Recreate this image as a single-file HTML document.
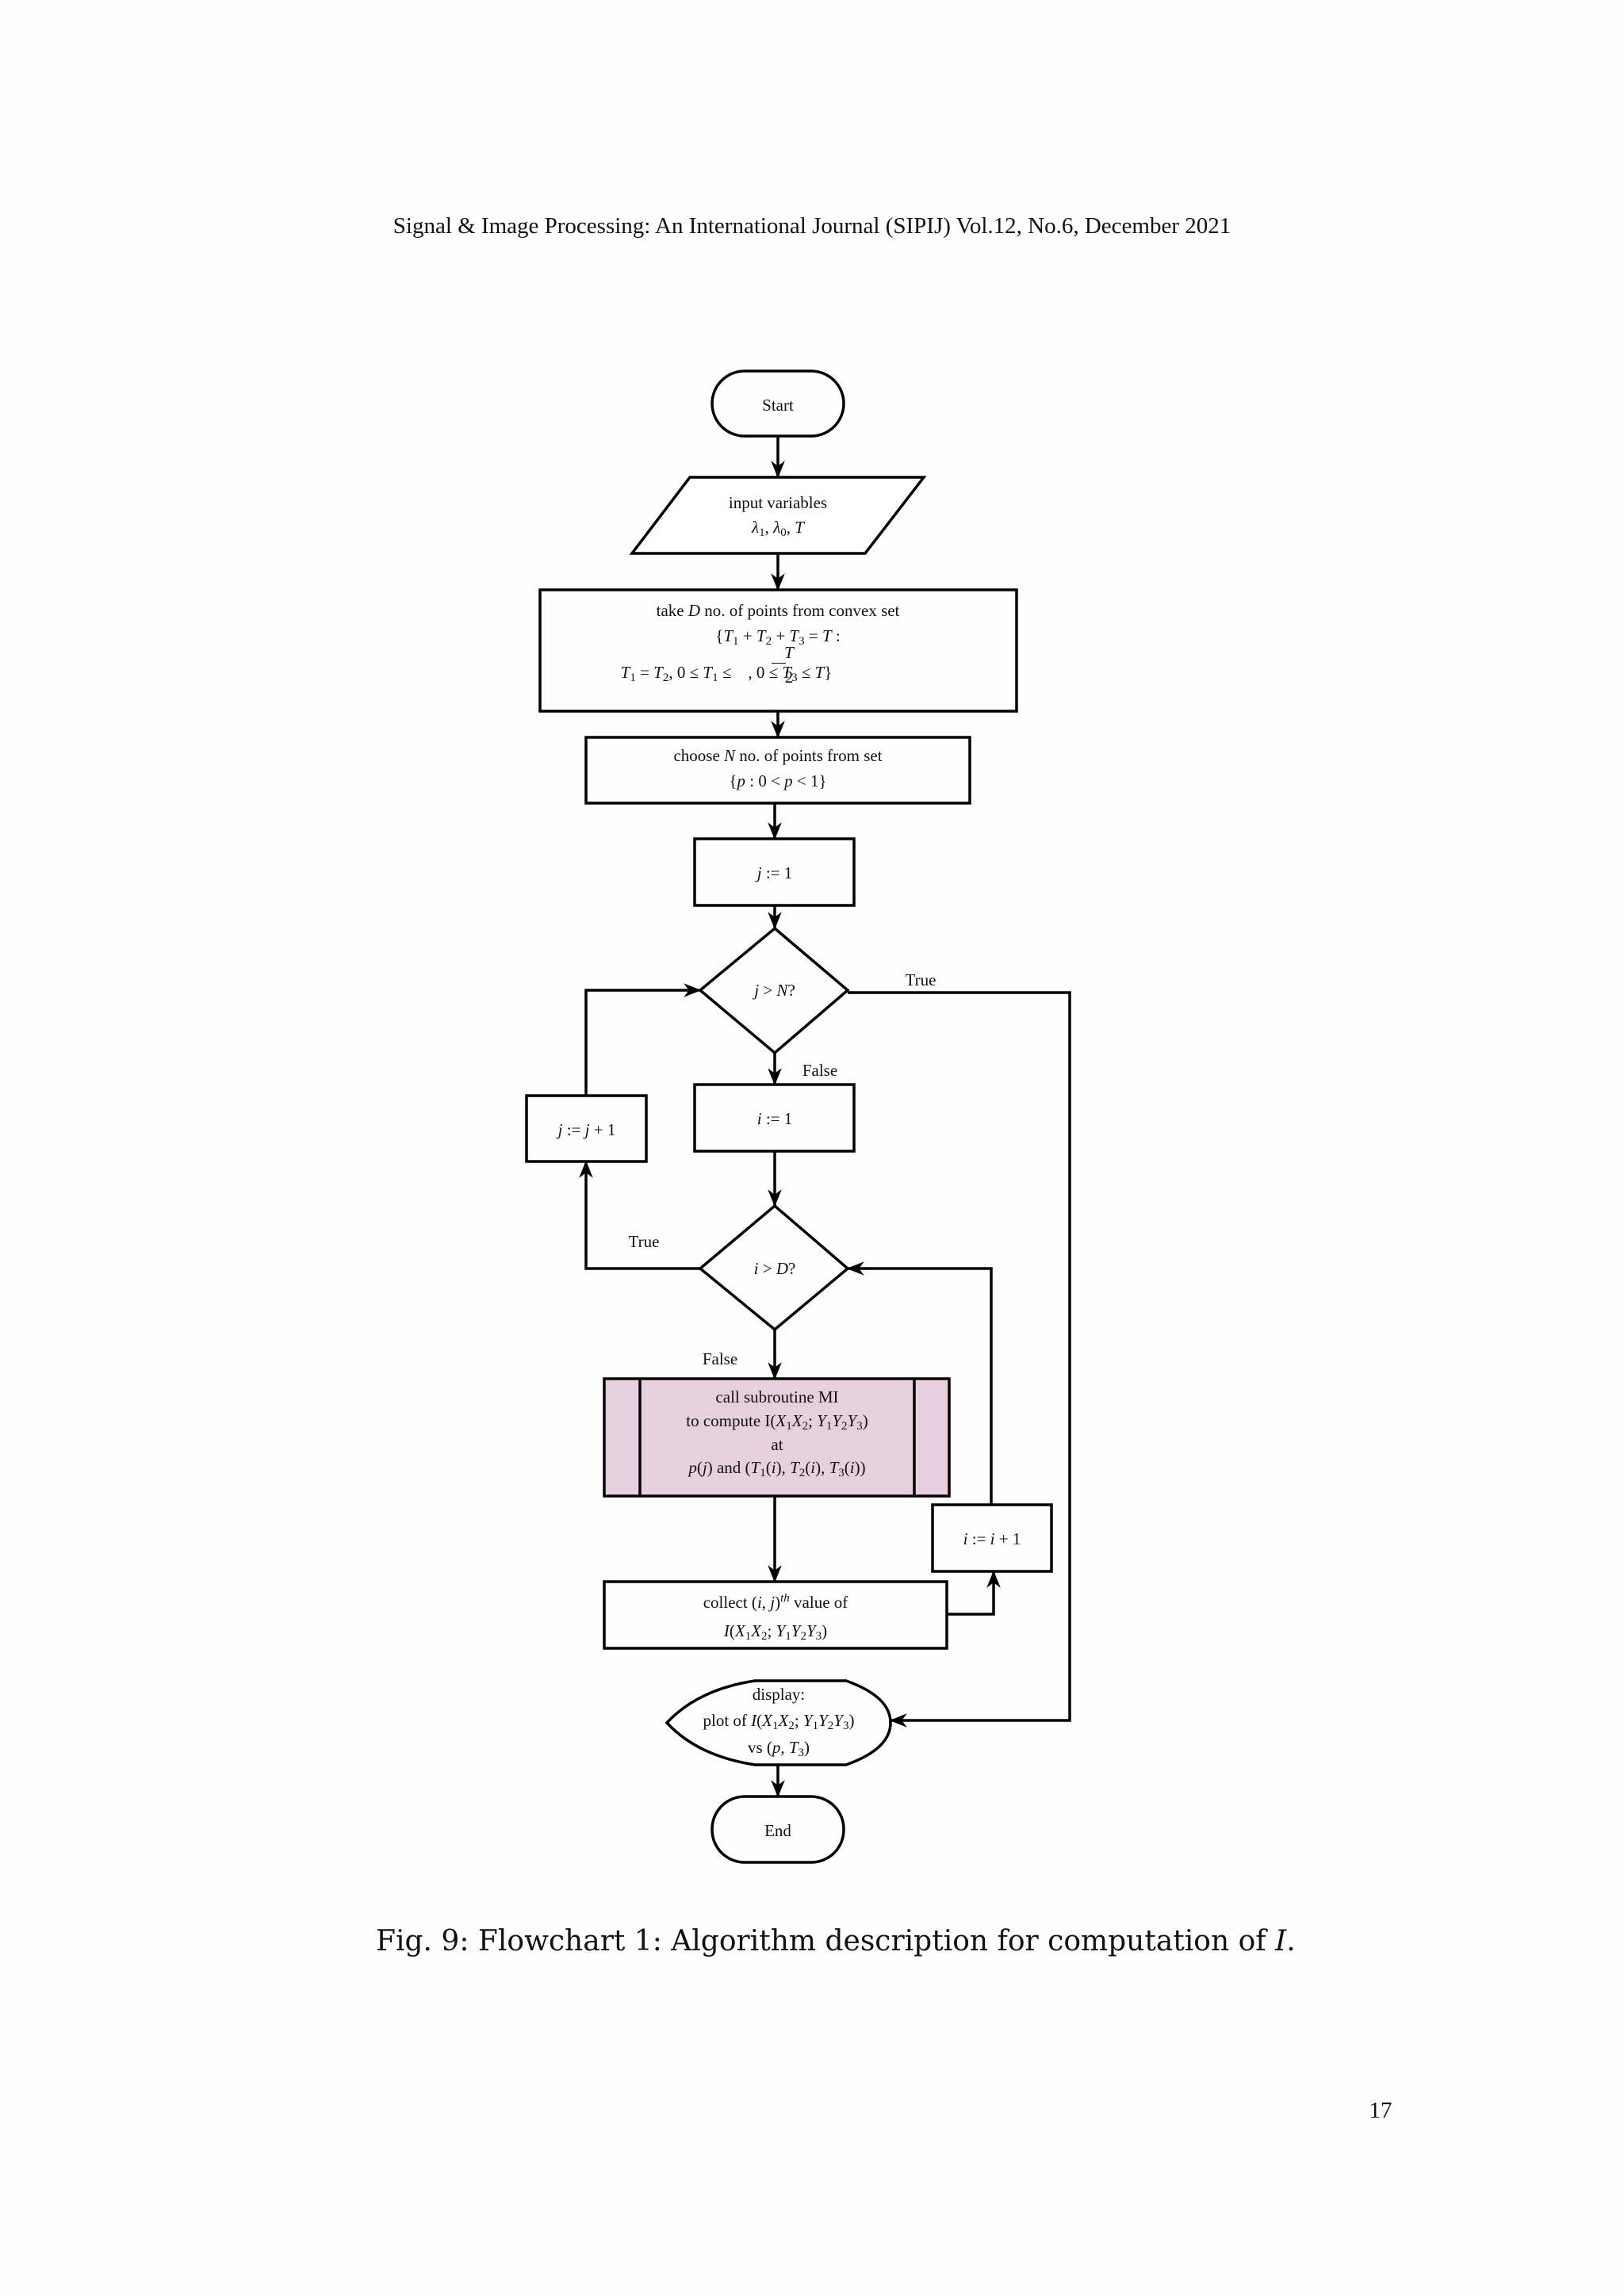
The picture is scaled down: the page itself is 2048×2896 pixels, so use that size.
<!DOCTYPE html>
<html><head><meta charset="utf-8"><style>
html,body{margin:0;padding:0;background:#fefefe;}
#pg{position:relative;width:2048px;height:2896px;overflow:hidden;font-family:"Liberation Serif",serif;color:#111;}
svg{position:absolute;left:0;top:0;}
.t{position:absolute;width:700px;text-align:center;font-size:21px;line-height:24px;height:24px;white-space:nowrap;}
i{font-style:italic;}
sub{font-size:15px;vertical-align:-4px;line-height:0;}
sup{font-size:15px;vertical-align:8px;line-height:0;}
</style></head><body><div id="pg">
<svg width="2048" height="2896" viewBox="0 0 2048 2896">
<defs><marker id="a" markerWidth="10" markerHeight="10" refX="9" refY="5" orient="auto" markerUnits="userSpaceOnUse" viewBox="0 0 10 10"><path d="M0,0 L10,5 L0,10 L3,5z" fill="#000"/></marker>
<marker id="b" viewBox="0 0 10 10" refX="9" refY="5" markerWidth="22" markerHeight="22" orient="auto" markerUnits="userSpaceOnUse"><path d="M0,1 L10,5 L0,9 L3,5z" fill="#000"/></marker></defs>
<g fill="none" stroke="#000" stroke-width="3.5">
<rect x="898" y="468" width="166" height="82" rx="41"/>
<polygon points="870,602 1165,602 1091,698 797,698" fill="#fff"/>
<rect x="681" y="744" width="601" height="153"/>
<rect x="739" y="930" width="484" height="83"/>
<rect x="876" y="1058" width="201" height="84"/>
<polygon points="977,1171 1069,1249 977,1328 883,1249"/>
<rect x="876" y="1368" width="201" height="84"/>
<rect x="664" y="1382" width="151" height="83"/>
<polygon points="977,1521 1069,1600 977,1677 883,1600"/>
<rect x="762" y="1739" width="435" height="148" fill="#e6d0df"/>
<line x1="807" y1="1739" x2="807" y2="1887"/><line x1="1153" y1="1739" x2="1153" y2="1887"/>
<rect x="1176" y="1898" width="150" height="84"/>
<rect x="762" y="1995" width="432" height="84"/>
<path d="M952,2120 L1067,2120 Q1123,2140 1123,2173 Q1123,2206 1067,2226 L952,2226 Q880,2215 841,2173 Q880,2131 952,2120Z"/>
<rect x="898" y="2266" width="166" height="83" rx="41"/>
</g>
<g fill="none" stroke="#000" stroke-width="3.5" marker-end="url(#b)">
<line x1="981" y1="550" x2="981" y2="601"/>
<line x1="981" y1="698" x2="981" y2="743"/>
<line x1="981" y1="897" x2="981" y2="929"/>
<line x1="977" y1="1013" x2="977" y2="1057"/>
<line x1="977" y1="1142" x2="977" y2="1170"/>
<line x1="977" y1="1328" x2="977" y2="1367"/>
<line x1="977" y1="1452" x2="977" y2="1520"/>
<line x1="977" y1="1677" x2="977" y2="1738"/>
<line x1="977" y1="1887" x2="977" y2="1994"/>
<line x1="981" y1="2226" x2="981" y2="2265"/>
<polyline points="739,1382 739,1249 882,1249"/>
<polyline points="883,1600 739,1600 739,1466"/>
<polyline points="1250,1898 1250,1600 1070,1600"/>
<polyline points="1194,2036 1253,2036 1253,1983"/>
<polyline points="1069,1252 1349,1252 1349,2170 1124,2170"/>
</g>
</svg>
<div class="t" style="left:474px;top:268px;width:1100px;font-size:29px;height:34px;line-height:34px;">Signal &amp; Image Processing: An International Journal (SIPIJ) Vol.12, No.6, December 2021</div>
<div class="t" style="left:631px;top:499px;">Start</div>
<div class="t" style="left:631px;top:622px;">input variables</div>
<div class="t" style="left:631px;top:653px;"><i>λ</i><sub>1</sub>, <i>λ</i><sub>0</sub>, <i>T</i></div>
<div class="t" style="left:631px;top:758px;">take <i>D</i> no. of points from convex set</div>
<div class="t" style="left:631px;top:790px;">{<i>T</i><sub>1</sub> + <i>T</i><sub>2</sub> + <i>T</i><sub>3</sub> = <i>T</i> :</div>
<div class="t" style="left:566px;top:836px;"><i>T</i><sub>1</sub> = <i>T</i><sub>2</sub>, 0 ≤ <i>T</i><sub>1</sub> ≤ &nbsp;&nbsp;&nbsp;, 0 ≤ <i>T</i><sub>3</sub> ≤ <i>T</i>}</div>
<div class="t" style="left:631px;top:811px;width:700px;padding-left:0;"><span style="position:relative;left:14px;"><i>T</i></span></div>
<div style="position:absolute;left:973px;top:836px;width:18px;border-top:1.5px solid #111;"></div>
<div class="t" style="left:631px;top:842px;"><span style="position:relative;left:14px;">2</span></div>
<div class="t" style="left:631px;top:941px;">choose <i>N</i> no. of points from set</div>
<div class="t" style="left:631px;top:973px;">{<i>p</i> : 0 &lt; <i>p</i> &lt; 1}</div>
<div class="t" style="left:627px;top:1089px;"><i>j</i> := 1</div>
<div class="t" style="left:627px;top:1237px;"><i>j</i> &gt; <i>N</i>?</div>
<div class="t" style="left:811px;top:1224px;">True</div>
<div class="t" style="left:684px;top:1338px;">False</div>
<div class="t" style="left:627px;top:1399px;"><i>i</i> := 1</div>
<div class="t" style="left:390px;top:1413px;"><i>j</i> := <i>j</i> + 1</div>
<div class="t" style="left:462px;top:1554px;">True</div>
<div class="t" style="left:627px;top:1588px;"><i>i</i> &gt; <i>D</i>?</div>
<div class="t" style="left:558px;top:1702px;">False</div>
<div class="t" style="left:630px;top:1750px;">call subroutine MI</div>
<div class="t" style="left:630px;top:1780px;">to compute I(<i>X</i><sub>1</sub><i>X</i><sub>2</sub>; <i>Y</i><sub>1</sub><i>Y</i><sub>2</sub><i>Y</i><sub>3</sub>)</div>
<div class="t" style="left:630px;top:1810px;">at</div>
<div class="t" style="left:630px;top:1839px;"><i>p</i>(<i>j</i>) and (<i>T</i><sub>1</sub>(<i>i</i>), <i>T</i><sub>2</sub>(<i>i</i>), <i>T</i><sub>3</sub>(<i>i</i>))</div>
<div class="t" style="left:901px;top:1929px;"><i>i</i> := <i>i</i> + 1</div>
<div class="t" style="left:628px;top:2009px;">collect (<i>i</i>, <i>j</i>)<sup><i>th</i></sup> value of</div>
<div class="t" style="left:628px;top:2045px;"><i>I</i>(<i>X</i><sub>1</sub><i>X</i><sub>2</sub>; <i>Y</i><sub>1</sub><i>Y</i><sub>2</sub><i>Y</i><sub>3</sub>)</div>
<div class="t" style="left:632px;top:2125px;">display:</div>
<div class="t" style="left:632px;top:2158px;">plot of <i>I</i>(<i>X</i><sub>1</sub><i>X</i><sub>2</sub>; <i>Y</i><sub>1</sub><i>Y</i><sub>2</sub><i>Y</i><sub>3</sub>)</div>
<div class="t" style="left:632px;top:2192px;">vs (<i>p</i>, <i>T</i><sub>3</sub>)</div>
<div class="t" style="left:631px;top:2297px;">End</div>
<div class="t" style="left:474px;top:2426px;width:1100px;font-family:'DejaVu Serif','Liberation Serif',serif;font-size:36px;height:46px;line-height:46px;">Fig. 9: Flowchart 1: Algorithm description for computation of <i>I</i>.</div>
<div class="t" style="left:1691px;top:2645px;width:100px;font-size:29px;height:34px;line-height:34px;">17</div>
</div></body></html>
